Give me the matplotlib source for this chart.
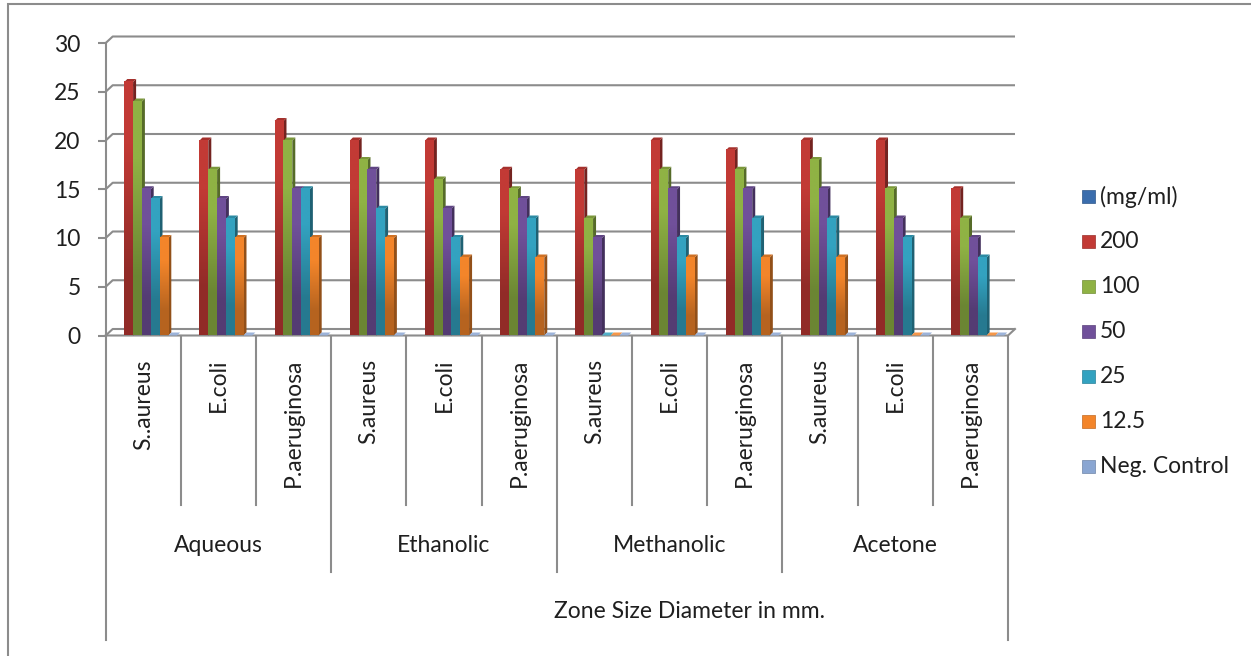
import numpy as np
import matplotlib
matplotlib.use("Agg")
import matplotlib.pyplot as plt
import matplotlib.transforms as mtransforms
from matplotlib.patches import Polygon, Rectangle
from matplotlib.colors import to_rgb

# Canvas size in pixels
W, H = 1251, 656

groups = ['Aqueous', 'Ethanolic', 'Methanolic', 'Acetone']
organisms = ['S..aureus', 'E.coli', 'P.aeruginosa',
             'S.aureus', 'E.coli', 'P.aeruginosa',
             'S.aureus', 'E.coli', 'P.aeruginosa',
             'S.aureus', 'E.coli', 'P.aeruginosa']
series_names = ['(mg/ml)', '200', '100', '50', '25', '12.5', 'Neg. Control']
series_colors = ['#3A6DAD', '#C23A35', '#8FB244', '#70509A', '#33A2C0', '#F3852A', '#8AA6D2']

# zone diameters (mm) per organism, one list per concentration
mg_ml = [0, 0, 0, 0, 0, 0, 0, 0, 0, 0, 0, 0]
conc_200 = [26, 20, 22, 20, 20, 17, 17, 20, 19, 20, 20, 15]
conc_100 = [24, 17, 20, 18, 16, 15, 12, 17, 17, 18, 15, 12]
conc_50 = [15, 14, 15, 17, 13, 14, 10, 15, 15, 15, 12, 10]
conc_25 = [14, 12, 15, 13, 10, 12, 0, 10, 12, 12, 10, 8]
conc_12_5 = [10, 10, 10, 10, 8, 8, 0, 8, 8, 8, 0, 0]
neg_control = [0, 0, 0, 0, 0, 0, 0, 0, 0, 0, 0, 0]

series_values = [mg_ml, conc_200, conc_100, conc_50, conc_25, conc_12_5, neg_control]

plt.rcParams['font.family'] = ['Lato', 'DejaVu Sans']
FS = 16.5
TXT = '#1f1f1f'
GRID = '#8C8C8C'

fig = plt.figure(figsize=(W / 100, H / 100), dpi=100)
fig.patch.set_facecolor('white')

# plot area (pixels): x 105.7..1008, y 43..335.5
x0_px, x1_px = 105.7, 1008.0
ytop_px, ybot_px = 43.0, 335.5
ax = fig.add_axes([x0_px / W, 1 - ybot_px / H, (x1_px - x0_px) / W, (ybot_px - ytop_px) / H])
ax.set_xlim(0, 12)
ax.set_ylim(0, 30)
ax.patch.set_alpha(0)

px_x = (x1_px - x0_px) / 12.0
px_y = (ybot_px - ytop_px) / 30.0

# 3-D back wall offset and bar depth
gx, gy = 7 / px_x, 6.5 / px_y
dx, dy = 3 / px_x, 3 / px_y
bar_w = 8.8 / px_x
first_off = 9.8 / px_x

# back wall gridlines
for v in range(0, 31, 5):
    ax.plot([0, gx, 12 + gx], [v, v + gy, v + gy], color=GRID, lw=1.5,
            clip_on=False, zorder=1, solid_capstyle='butt')
# floor front edge and right edge
ax.plot([0, 12, 12 + gx], [0, 0, gy], color=GRID, lw=1.5, clip_on=False, zorder=1)


def shade(c, f):
    r = np.array(to_rgb(c))
    if f < 1:
        return tuple(r * f)
    return tuple(r + (1 - r) * (f - 1))


for s, (vals, col) in enumerate(zip(series_values, series_colors)):
    for i, v in enumerate(vals):
        x = i + first_off + s * bar_w
        z = 3 + i * 0.01 + s * 0.001
        # the "(mg/ml)" header series has no bars at all
        if s == 0 and v == 0:
            continue
        side = Polygon([(x + bar_w, 0), (x + bar_w + dx, dy), (x + bar_w + dx, v + dy), (x + bar_w, v)],
                       closed=True, facecolor=shade(col, 0.6), edgecolor='none', zorder=z, clip_on=False)
        top = Polygon([(x, v), (x + dx, v + dy), (x + bar_w + dx, v + dy), (x + bar_w, v)],
                      closed=True, facecolor=shade(col, 0.85 if v > 0 else 1.15),
                      edgecolor='none', zorder=z, clip_on=False)
        ax.add_patch(side)
        ax.add_patch(top)
        if v > 0:
            grad = np.array([[shade(col, 1.0)], [shade(col, 0.75)]])
            ax.imshow(grad, extent=[x, x + bar_w, 0, v], aspect='auto',
                      interpolation='bilinear', zorder=z + 0.0005, origin='upper')

ax.set_xlim(0, 12)
ax.set_ylim(0, 30)

# y axis
for sp in ['top', 'right', 'bottom']:
    ax.spines[sp].set_visible(False)
ax.spines['left'].set_color(GRID)
ax.spines['left'].set_linewidth(1.5)
ax.set_xticks([])
ax.set_yticks(range(0, 31, 5))
ax.tick_params(axis='y', length=6, width=1.5, color=GRID, pad=12, labelsize=FS, labelcolor=TXT)

# category axis below the plot
tr = mtransforms.blended_transform_factory(ax.transData, fig.transFigure)
def fy(py):
    return 1 - py / H

floor_py = 336.0
for b in range(13):
    if b in (0, 12):
        end = 640
    elif b % 3 == 0:
        end = 572
    else:
        end = 505
    ax.plot([b, b], [fy(floor_py), fy(end)], transform=tr, color=GRID, lw=1.5, clip_on=False)

for i, name in enumerate(organisms):
    ax.text(i + 0.5, fy(359), name, transform=tr, rotation=90, ha='center', va='top',
            fontsize=FS, color=TXT)

for g, name in enumerate(groups):
    ax.text(g * 3 + 1.5, fy(545), name, transform=tr, ha='center', va='center',
            fontsize=FS, color=TXT)

fig.text(690 / W, fy(612), 'Zone Size Diameter in mm.', ha='center', va='center',
         fontsize=FS, color=TXT)

# legend
for k, (name, col) in enumerate(zip(series_names, series_colors)):
    yc = 196.7 + k * 45
    fig.add_artist(Rectangle((1081.7 / W, fy(yc + 6.7)), 13.3 / W, 13.3 / H,
                             transform=fig.transFigure, facecolor=col,
                             edgecolor=shade(col, 0.8), lw=0.5))
    fig.text(1100 / W, fy(yc), name, ha='left', va='center', fontsize=FS, color=TXT)

# chart outer frame
fig.add_artist(Rectangle((8 / W, -0.1), 1.2, 1.1 - 4 / H, transform=fig.transFigure,
                         facecolor='none', edgecolor=GRID, lw=1.5))

fig.savefig('out.png', dpi=100)
